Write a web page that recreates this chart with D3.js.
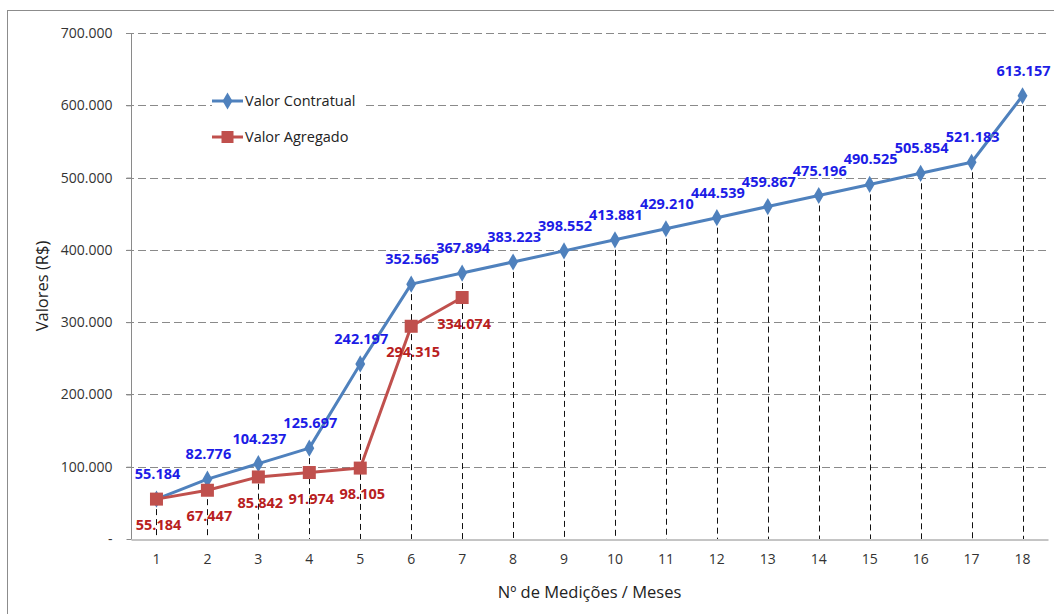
<!DOCTYPE html>
<html>
<head>
<meta charset="utf-8">
<script src="https://cdn.jsdelivr.net/npm/d3@7"></script>
<style>
  html, body { margin: 0; padding: 0; background: #fff; }
  svg { display: block; }
</style>
</head>
<body>
<svg id="chart" width="1054" height="614"></svg>
<script>
// Months / measurement numbers
const months = ["1","2","3","4","5","6","7","8","9","10","11","12","13","14","15","16","17","18"];
// Cumulative contract value (R$ thousands)
const contratual = [55.184, 82.776, 104.237, 125.697, 242.197, 352.565, 367.894, 383.223, 398.552, 413.881, 429.210, 444.539, 459.867, 475.196, 490.525, 505.854, 521.183, 613.157];
// Earned value so far (R$ thousands)
const agregado = [55.184, 67.447, 85.842, 91.974, 98.105, 294.315, 334.074];
const yTicks = [0, 100, 200, 300, 400, 500, 600, 700];

const svg = d3.select("#chart");
const W = 1054, H = 614;
const m = { left: 131, right: 6, top: 33, bottom: 75 };
const font = "'Open Sans', 'DejaVu Sans', sans-serif";

// outer frame
svg.append("rect").attr("x", 7.5).attr("y", 10.5).attr("width", 1100).attr("height", 700)
  .attr("fill", "#fff").attr("stroke", "#8c8c8c").attr("stroke-width", 1);

const x = d3.scaleBand().domain(months).range([m.left, W - m.right]);
const y = d3.scaleLinear().domain([0, 700]).range([H - m.bottom, m.top]);
const cx = d => x(d) + x.bandwidth() / 2;

const fmtLabel = v => v.toFixed(3);

// horizontal gridlines
svg.append("g").selectAll("line").data(yTicks.filter(d => d > 0)).join("line")
  .attr("x1", m.left - 5).attr("x2", W - m.right)
  .attr("y1", d => Math.round(y(d)) + 0.5).attr("y2", d => Math.round(y(d)) + 0.5)
  .attr("stroke", "#8a8a8a").attr("stroke-width", 1).attr("stroke-dasharray", "8,4");

// y axis
const yAxis = svg.append("g").attr("transform", `translate(${m.left + 0.5},0)`)
  .call(d3.axisLeft(y).tickValues(yTicks).tickSize(5).tickPadding(14));
yAxis.select(".domain").attr("stroke", "#8a8a8a").attr("d", `M0,${y(0)}V${y(700)}`);
yAxis.selectAll(".tick line").attr("stroke", "#8a8a8a");
yAxis.selectAll(".tick text").attr("font-family", font).attr("font-size", 14).attr("fill", "#333")
  .text(v => v === 0 ? "-" : v + ".000");

// vertical drop lines from each contract point
svg.append("g").selectAll("line").data(contratual).join("line")
  .attr("x1", (d, i) => Math.round(cx(months[i])) + 0.5).attr("x2", (d, i) => Math.round(cx(months[i])) + 0.5)
  .attr("y1", d => y(d)).attr("y2", y(0))
  .attr("stroke", "#111").attr("stroke-width", 1).attr("stroke-dasharray", "6,4");

// x axis
const xAxis = svg.append("g").attr("transform", `translate(0,${Math.round(y(0)) + 0.5})`)
  .call(d3.axisBottom(x).tickSize(0).tickPadding(15));
xAxis.select(".domain").attr("stroke", "#8a8a8a");
xAxis.selectAll(".tick text").attr("font-family", font).attr("font-size", 14).attr("fill", "#333");

// axis titles
svg.append("text").attr("x", (m.left + W - m.right) / 2).attr("y", 598)
  .attr("text-anchor", "middle").attr("font-family", font).attr("font-size", 16.5).attr("fill", "#222")
  .text("Nº de Medições / Meses");
svg.append("text").attr("transform", `translate(48,${(y(0) + y(700)) / 2}) rotate(-90)`)
  .attr("text-anchor", "middle").attr("font-family", font).attr("font-size", 16.5).attr("fill", "#222")
  .text("Valores (R$)");

const line = d3.line().x((d, i) => cx(months[i])).y(d => y(d));
const blue = "#4f81bd", red = "#c0504d";
const diamond = d3.symbol().type(d3.symbolDiamond).size(85);

// Valor Contratual
svg.append("path").datum(contratual).attr("d", line)
  .attr("fill", "none").attr("stroke", blue).attr("stroke-width", 3).attr("stroke-linejoin", "round");
svg.append("g").selectAll("path").data(contratual).join("path")
  .attr("transform", (d, i) => `translate(${cx(months[i])},${y(d)})`)
  .attr("d", diamond).attr("fill", blue);

// Valor Agregado
svg.append("path").datum(agregado).attr("d", line)
  .attr("fill", "none").attr("stroke", red).attr("stroke-width", 3).attr("stroke-linejoin", "round");
svg.append("g").selectAll("rect").data(agregado).join("rect")
  .attr("x", (d, i) => cx(months[i]) - 6.5).attr("y", d => y(d) - 6.5)
  .attr("width", 13).attr("height", 13).attr("fill", red);

// value labels
svg.append("g").selectAll("text").data(contratual).join("text")
  .attr("x", (d, i) => cx(months[i]) + 1).attr("y", d => y(d) - 20)
  .attr("text-anchor", "middle").attr("font-family", font).attr("font-weight", "bold")
  .attr("font-size", 14.5).attr("fill", "#1c1ce6").text(fmtLabel);
svg.append("g").selectAll("text").data(agregado).join("text")
  .attr("x", (d, i) => cx(months[i]) + 2).attr("y", d => y(d) + 31)
  .attr("text-anchor", "middle").attr("font-family", font).attr("font-weight", "bold")
  .attr("font-size", 14.5).attr("fill", "#b8201e").text(fmtLabel);

// legend
const legend = [
  { name: "Valor Contratual", color: blue, shape: "diamond" },
  { name: "Valor Agregado", color: red, shape: "square" }
];
const lg = svg.append("g").attr("transform", "translate(212,101)");
legend.forEach((d, i) => {
  const g = lg.append("g").attr("transform", `translate(0,${i * 36})`);
  g.append("rect").attr("x", 0).attr("y", -10).attr("width", 152).attr("height", 20).attr("fill", "#fff");
  g.append("line").attr("x1", 0).attr("x2", 31).attr("stroke", d.color).attr("stroke-width", 3);
  if (d.shape === "diamond") {
    g.append("path").attr("transform", "translate(15.5,0)").attr("d", diamond).attr("fill", d.color);
  } else {
    g.append("rect").attr("x", 9.5).attr("y", -6).attr("width", 12).attr("height", 12).attr("fill", d.color);
  }
  g.append("text").attr("x", 33).attr("y", 5).attr("font-family", font).attr("font-size", 14.5)
    .attr("fill", "#222").text(d.name);
});
</script>
</body>
</html>
